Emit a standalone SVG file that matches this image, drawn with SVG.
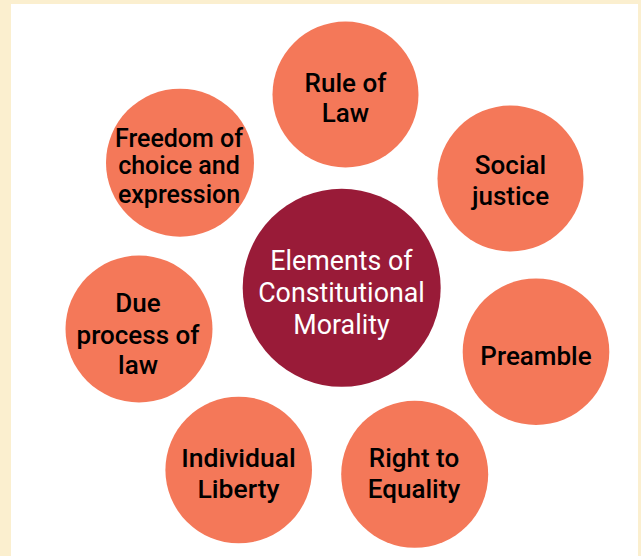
<svg xmlns="http://www.w3.org/2000/svg" width="641" height="556" viewBox="0 0 641 556">
  <style>
    .bg { fill: #FBEFCF; }
    .panel { fill: #FFFFFF; }
    .node { fill: #F47859; }
    .center { fill: #991B38; }
    .lbl { font-family: Roboto, "Liberation Sans", sans-serif; font-weight: 500; font-size: 26px; fill: #000000; text-anchor: middle; }
    .sm { font-size: 25px; }
    .md { font-size: 26.5px; }
    .clbl { font-family: Roboto, "Liberation Sans", sans-serif; font-weight: 400; font-size: 26.8px; fill: #FFFFFF; text-anchor: middle; }
  </style>
  <rect class="bg" x="0" y="0" width="641" height="556"/>
  <rect class="panel" x="11" y="4" width="627" height="552"/>
  <g id="connectors"></g>
  <g id="rule-of-law">
    <circle class="node" cx="345.5" cy="94.5" r="73"/>
    <text class="lbl" x="345.5" y="91.5">Rule of</text>
    <text class="lbl" x="345.5" y="121.5">Law</text>
  </g>
  <g id="social-justice">
    <circle class="node" cx="510.5" cy="178.5" r="73"/>
    <text class="lbl" x="510.5" y="174">Social</text>
    <text class="lbl" x="510.5" y="205">justice</text>
  </g>
  <g id="preamble">
    <circle class="node" cx="536" cy="351.7" r="73.3"/>
    <text class="lbl" x="536" y="365">Preamble</text>
  </g>
  <g id="right-to-equality">
    <circle class="node" cx="414.7" cy="474.3" r="73.5"/>
    <text class="lbl" x="414" y="467.3">Right to</text>
    <text class="lbl" x="414" y="498.3">Equality</text>
  </g>
  <g id="individual-liberty">
    <circle class="node" cx="238.7" cy="470" r="73.3"/>
    <text class="lbl md" x="238.5" y="467.3">Individual</text>
    <text class="lbl md" x="238.5" y="498.3">Liberty</text>
  </g>
  <g id="due-process-of-law">
    <circle class="node" cx="139" cy="329" r="73.5"/>
    <text class="lbl" x="138" y="312.3">Due</text>
    <text class="lbl" x="138" y="344.3">process of</text>
    <text class="lbl" x="138" y="374">law</text>
  </g>
  <g id="freedom-of-choice">
    <circle class="node" cx="180" cy="162.7" r="74"/>
    <text class="lbl sm" x="179" y="146.7">Freedom of</text>
    <text class="lbl sm" x="179" y="174.3">choice and</text>
    <text class="lbl sm" x="179" y="202.7">expression</text>
  </g>
  <g id="elements-of-constitutional-morality">
    <circle class="center" cx="341.7" cy="287.8" r="99"/>
    <text class="clbl" x="341.5" y="270">Elements of</text>
    <text class="clbl" x="341.5" y="301.7">Constitutional</text>
    <text class="clbl" x="341.5" y="334">Morality</text>
  </g>
</svg>
